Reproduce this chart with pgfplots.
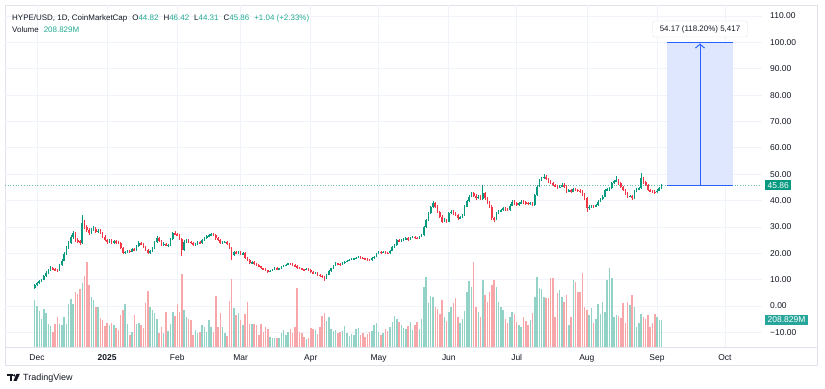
\documentclass[border=0pt]{standalone}
\usepackage{pgfplots}
\pgfplotsset{compat=1.18}
\usepackage{pgfplotstable}
\usepackage{fontspec}
\setmainfont{Liberation Sans}
\usetikzlibrary{arrows.meta}
\definecolor{upc}{RGB}{8,153,129}
\definecolor{dnc}{RGB}{242,54,69}
\definecolor{upv}{RGB}{146,210,199}
\definecolor{dnv}{RGB}{247,166,170}
\definecolor{gridc}{RGB}{240,243,250}
\definecolor{framec}{RGB}{224,227,235}
\definecolor{txt}{RGB}{19,23,34}
\definecolor{tealtxt}{RGB}{34,171,148}
\definecolor{voltag}{RGB}{38,166,154}
\definecolor{mblue}{RGB}{41,98,255}
\definecolor{mfill}{RGB}{222,231,253}
\definecolor{dotc}{RGB}{100,190,175}

\pgfplotstableread{
d o h l c v
-1 6.90 8.40 6.50 7.80 363
0 7.80 9.10 7.50 8.70 317
1 8.70 9.80 8.40 9.30 278
2 9.30 10.30 9.00 9.90 216
3 9.90 11.70 9.70 11.20 294
4 11.20 13.10 10.90 12.60 263
5 12.60 14.20 12.30 13.70 178
6 13.70 15.10 13.40 14.40 162
7 14.40 14.80 13.50 13.90 116
8 13.90 14.30 13.10 13.60 178
9 13.60 14.00 12.90 13.40 232
10 13.40 16.00 13.20 15.60 178
11 15.60 17.80 15.30 17.20 170
12 17.20 20.40 16.90 19.80 232
13 19.80 22.70 19.40 22.10 178
14 22.10 24.60 21.70 23.90 332
15 23.90 26.90 23.40 26.10 371
16 26.10 28.60 25.60 27.70 332
17 27.70 28.20 24.30 25.00 425
18 25.00 25.90 24.00 24.60 410
19 24.60 25.20 23.20 23.90 448
20 23.90 34.60 23.60 31.50 495
21 31.50 32.60 29.30 30.00 549
22 30.00 30.90 28.10 28.90 657
23 28.90 29.50 27.00 27.70 479
24 27.70 29.60 27.20 28.80 387
25 28.80 30.20 28.30 29.40 363
26 29.40 29.90 27.60 28.20 309
27 28.20 29.30 27.80 28.60 309
28 28.60 29.10 27.20 27.70 224
29 27.70 28.10 25.80 26.30 209
30 26.30 26.80 24.50 25.00 162
31 25.00 25.50 23.60 24.20 186
32 24.20 25.40 23.80 24.90 170
33 24.90 25.30 23.60 24.10 186
34 24.10 25.10 23.70 24.60 170
35 24.60 25.00 23.50 24.00 147
36 24.00 24.60 23.40 23.90 131
37 23.90 24.20 21.50 22.00 247
38 22.00 22.40 19.60 20.10 286
39 20.10 21.00 19.70 20.50 332
40 20.50 21.40 20.10 20.90 178
41 20.90 21.30 20.10 20.60 93
42 20.60 22.00 20.30 21.50 116
43 21.50 21.90 20.80 21.20 247
44 21.20 23.30 20.90 22.80 178
45 22.80 24.50 22.50 23.90 186
46 23.90 24.30 23.00 23.40 170
47 23.40 23.80 22.10 22.50 147
48 22.50 22.90 21.00 21.40 340
49 21.40 21.80 19.60 20.10 433
50 20.10 21.40 19.80 20.90 309
51 20.90 22.50 20.60 22.00 286
52 22.00 24.70 21.70 24.20 263
53 24.20 26.40 23.90 25.80 216
54 25.80 26.20 24.20 24.60 108
55 24.60 25.00 22.70 23.10 155
56 23.10 24.10 22.80 23.60 108
57 23.60 24.00 22.60 23.00 271
58 23.00 23.60 22.50 23.10 124
59 23.10 25.90 22.80 25.40 178
60 25.40 28.20 25.10 27.70 271
61 27.70 28.30 26.80 27.20 240
62 27.20 27.70 26.40 26.90 332
63 26.90 27.30 25.00 25.50 271
64 25.50 25.90 19.00 21.20 564
65 21.20 24.90 20.80 24.40 286
66 24.40 25.40 24.00 24.90 232
67 24.90 25.30 24.00 24.40 216
68 24.40 24.80 23.60 24.00 209
69 24.00 24.40 22.70 23.10 93
70 23.10 23.90 22.80 23.50 131
71 23.50 24.70 23.20 24.30 108
72 24.30 24.70 23.40 23.80 116
73 23.80 25.40 23.50 25.00 170
74 25.00 26.10 24.70 25.70 155
75 25.70 26.90 25.40 26.50 116
76 26.50 27.40 26.10 26.90 209
77 26.90 27.80 26.50 27.30 155
78 27.30 27.70 26.40 26.90 116
79 26.90 27.30 25.20 25.70 394
80 25.70 26.10 24.70 25.10 155
81 25.10 25.50 23.40 23.80 263
82 23.80 24.60 23.50 24.20 155
83 24.20 24.80 23.80 24.40 108
84 24.40 24.80 23.20 23.60 85
85 23.60 24.00 21.50 21.90 356
86 21.90 22.30 17.50 19.30 526
87 19.30 20.80 19.00 20.30 301
88 20.30 20.70 19.60 20.00 247
89 20.00 20.80 19.70 20.40 263
90 20.40 20.80 19.40 19.80 209
91 19.80 20.40 19.50 20.00 170
92 20.00 20.30 17.80 18.10 255
93 18.10 18.50 17.10 17.40 348
94 17.40 17.80 15.90 16.20 178
95 16.20 16.90 15.90 16.60 178
96 16.60 16.90 15.60 15.90 178
97 15.90 16.20 15.30 15.60 170
98 15.60 15.90 14.70 15.00 93
99 15.00 15.30 14.00 14.30 178
100 14.30 14.60 13.70 14.00 116
101 14.00 14.30 13.20 13.50 155
102 13.50 13.80 12.60 13.00 139
103 13.00 13.70 12.80 13.40 77
104 13.40 14.00 13.10 13.70 70
105 13.70 14.80 13.50 14.50 70
106 14.50 14.80 13.60 13.90 70
107 13.90 14.60 13.70 14.30 70
108 14.30 15.20 14.10 14.90 108
109 14.90 15.50 14.70 15.20 131
110 15.20 15.90 15.00 15.60 93
111 15.60 16.50 15.40 16.20 116
112 16.20 16.50 15.70 16.00 139
113 16.00 16.30 15.30 15.60 108
114 15.60 15.90 14.80 15.10 155
115 15.10 15.40 14.20 14.60 456
116 14.60 14.90 14.00 14.30 116
117 14.30 14.60 13.60 13.90 108
118 13.90 14.20 13.40 13.70 77
119 13.70 14.40 13.50 14.10 62
120 14.10 14.40 13.40 13.70 70
121 13.70 13.90 12.60 12.90 147
122 12.90 13.20 12.10 12.40 139
123 12.40 12.90 12.10 12.60 131
124 12.60 12.80 11.50 11.80 100
125 11.80 12.10 11.20 11.50 155
126 11.50 11.80 10.80 11.10 240
127 11.10 11.40 9.50 10.70 263
128 10.70 12.10 10.40 11.80 201
129 11.80 13.50 11.60 13.20 232
130 13.20 14.60 13.00 14.30 139
131 14.30 15.60 14.10 15.30 124
132 15.30 16.60 15.10 16.20 131
133 16.20 16.50 15.60 15.90 108
134 15.90 16.20 15.30 15.60 116
135 15.60 16.60 15.40 16.30 124
136 16.30 17.10 16.10 16.80 162
137 16.80 17.50 16.60 17.20 108
138 17.20 17.80 17.00 17.50 85
139 17.50 18.20 17.30 17.90 100
140 17.90 18.40 17.70 18.10 93
141 18.10 18.60 17.90 18.30 139
142 18.30 19.00 18.10 18.70 147
143 18.70 19.00 18.10 18.40 93
144 18.40 18.70 17.80 18.10 108
145 18.10 18.40 17.50 17.80 77
146 17.80 18.10 17.20 17.50 100
147 17.50 17.80 17.10 17.40 116
148 17.40 18.50 17.20 18.20 124
149 18.20 19.00 18.00 18.70 170
150 18.70 20.10 18.50 19.80 186
151 19.80 20.90 19.60 20.60 116
152 20.60 20.90 19.90 20.30 93
153 20.30 20.90 20.10 20.60 108
154 20.60 20.90 19.90 20.20 139
155 20.20 20.50 19.70 20.00 124
156 20.00 21.30 19.80 21.00 155
157 21.00 22.60 20.80 22.30 193
158 22.30 23.50 22.10 23.10 240
159 23.10 25.40 22.90 25.00 216
160 25.00 25.40 24.20 24.60 193
161 24.60 25.30 24.40 25.00 170
162 25.00 25.70 24.70 25.40 147
163 25.40 26.10 25.10 25.70 139
164 25.70 26.00 24.90 25.20 162
165 25.20 26.20 25.00 25.90 193
166 25.90 26.70 25.70 26.30 131
167 26.30 26.60 25.50 25.80 170
168 25.80 26.10 25.30 25.70 193
169 25.70 26.60 25.50 26.30 139
170 26.30 27.30 26.10 26.90 216
171 26.90 30.30 26.70 29.80 464
172 29.80 33.10 29.50 32.60 541
173 32.60 35.70 32.30 35.20 340
174 35.20 38.00 34.90 37.40 394
175 37.40 39.90 37.10 39.00 387
176 39.00 39.50 37.10 37.70 309
177 37.70 38.20 35.10 35.60 294
178 35.60 36.10 33.40 33.90 255
179 33.90 34.40 31.50 32.00 363
180 32.00 33.20 31.70 32.60 232
181 32.60 33.10 31.50 32.00 201
182 32.00 35.70 31.80 35.20 271
183 35.20 36.40 34.90 35.80 309
184 35.80 36.30 34.60 35.10 340
185 35.10 35.60 34.00 34.50 379
186 34.50 35.00 32.80 33.30 232
187 33.30 34.30 33.00 33.80 186
188 33.80 35.00 33.50 34.50 216
189 34.50 38.20 34.20 37.70 278
190 37.70 40.40 37.40 39.80 425
191 39.80 42.10 39.50 41.50 510
192 41.50 43.40 41.20 42.80 464
193 42.80 43.30 41.30 41.90 657
194 41.90 42.40 40.40 40.90 309
195 40.90 42.10 40.60 41.50 271
196 41.50 42.00 40.10 40.60 232
197 40.60 45.90 40.30 42.80 518
198 42.80 43.30 40.40 40.90 402
199 40.90 41.40 38.70 39.20 348
200 39.20 39.70 37.20 37.70 425
201 37.70 38.20 32.80 33.30 479
202 33.30 33.90 31.80 33.00 518
203 33.00 35.70 32.70 35.20 464
204 35.20 36.30 34.90 35.80 348
205 35.80 36.90 35.50 36.40 309
206 36.40 37.60 36.10 37.10 286
207 37.10 37.60 36.10 36.60 216
208 36.60 37.10 35.90 36.40 186
209 36.40 38.60 36.10 38.10 232
210 38.10 40.10 37.80 39.60 271
211 39.60 40.10 38.50 39.00 255
212 39.00 39.50 37.80 38.30 193
213 38.30 39.40 38.00 38.90 170
214 38.90 40.10 38.60 39.60 155
215 39.60 40.10 38.80 39.30 232
216 39.30 39.80 38.50 39.00 201
217 39.00 39.50 38.30 38.80 170
218 38.80 39.50 38.50 39.00 209
219 39.00 39.50 37.90 38.40 263
220 38.40 42.60 38.10 42.10 387
221 42.10 45.80 41.80 45.30 541
222 45.30 48.30 45.00 47.80 456
223 47.80 48.90 47.30 48.40 448
224 48.40 50.20 48.00 49.10 387
225 49.10 49.60 47.70 48.20 379
226 48.20 48.70 46.70 47.20 379
227 47.20 47.70 46.10 46.60 533
228 46.60 47.10 45.40 45.90 533
229 45.90 46.40 45.00 45.50 232
230 45.50 46.00 44.50 45.00 417
231 45.00 45.80 44.70 45.30 441
232 45.30 46.50 45.00 46.00 387
233 46.00 46.50 44.80 45.30 348
234 45.30 45.80 42.90 43.40 402
235 43.40 44.40 43.10 43.90 170
236 43.90 44.40 42.90 43.40 232
237 43.40 44.80 43.10 44.30 518
238 44.30 44.80 43.50 44.00 502
239 44.00 44.50 43.30 43.80 425
240 43.80 44.30 42.90 43.40 425
241 43.40 43.90 41.90 42.40 572
242 42.40 42.90 40.40 40.90 309
243 40.90 41.40 35.80 37.10 286
244 37.10 38.20 36.60 37.70 247
245 37.70 38.50 37.20 38.00 301
246 38.00 38.50 37.20 37.70 186
247 37.70 38.80 37.40 38.30 216
248 38.30 40.10 38.00 39.60 332
249 39.60 41.00 39.30 40.50 255
250 40.50 42.00 40.20 41.50 348
251 41.50 44.50 41.20 44.00 271
252 44.00 44.90 43.50 44.20 518
253 44.20 45.20 43.70 44.70 611
254 44.70 47.00 44.40 46.50 533
255 46.50 47.90 46.20 47.40 232
256 47.40 49.30 46.90 47.80 247
257 47.80 48.30 46.00 46.50 240
258 46.50 47.00 44.70 45.20 224
259 45.20 45.70 43.50 44.00 340
260 44.00 44.50 42.30 42.80 186
261 42.80 43.30 41.00 41.50 348
262 41.50 42.30 41.20 41.80 325
263 41.80 42.30 40.40 40.90 402
264 40.90 43.90 40.60 43.40 309
265 43.40 44.70 43.10 44.20 155
266 44.20 45.20 43.90 44.70 186
267 44.70 50.60 44.40 48.40 255
268 48.40 48.90 46.40 46.90 232
269 46.90 47.40 45.40 45.90 216
270 45.90 46.40 43.50 44.00 247
271 44.00 44.50 43.10 43.60 155
272 43.60 44.10 42.90 43.40 186
273 43.40 43.90 42.60 43.10 255
274 43.10 44.30 42.80 43.80 232
275 43.80 45.30 43.50 44.82 209
276 44.82 46.42 44.31 45.86 208.829
}\data

\pgfplotsset{
  uponly/.style={restrict expr to domain={\thisrow{c}-\thisrow{o}}{0:1000}},
  dnonly/.style={restrict expr to domain={\thisrow{c}-\thisrow{o}}{-1000:-0.001}},
  base/.style={scale only axis, width=757bp, height=342bp, at={(5bp,42bp)},
    anchor=south west, xmin=-14.14, xmax=320.4},
}

\begin{document}
\begin{tikzpicture}
\path[use as bounding box, fill=white] (0,0) rectangle (825bp,389bp);
% frame
\draw[framec, line width=0.8bp] (5bp,24bp) rectangle (817bp,384bp);
\draw[framec, line width=0.8bp] (5bp,42bp) -- (817bp,42bp);

% grid + tick labels
\begin{axis}[base, ymin=-15.55, ymax=114.19,
  axis line style={draw=none},
  major tick length=0pt,
  xtick={0,31,62,90,121,151,182,212,243,274,304},
  xticklabels={Dec,\textbf{2025},Feb,Mar,Apr,May,Jun,Jul,Aug,Sep,Oct},
  ytick={-10,0,...,110},
  yticklabels={−10.00,0.00,10.00,20.00,30.00,40.00,50.00,60.00,70.00,80.00,90.00,100.00,110.00},
  yticklabel pos=right,
  xmajorgrids, ymajorgrids, grid style={gridc, line width=0.7bp},
  tick label style={font=\fontsize{8.5}{10}\selectfont, text=txt},
  yticklabel style={anchor=west, inner sep=0pt, xshift=8bp},
  xticklabel style={anchor=base, inner sep=0pt, yshift=-13.5bp},
]
\addplot[draw=none, forget plot] coordinates {(0,0)};
\end{axis}

% volume
\begin{axis}[base, ymin=0, ymax=2644, hide axis, clip mode=individual]
\addplot[ycomb, upv, line width=1.5bp, mark=none, uponly] table[x=d, y=v]{\data};
\addplot[ycomb, dnv, line width=1.5bp, mark=none, dnonly] table[x=d, y=v]{\data};
\node[fill=voltag, text=white, anchor=west, inner xsep=2.5bp, inner ysep=0pt,
  minimum height=10.5bp, font=\fontsize{8.5}{10}\selectfont, xshift=3bp]
  at (axis cs:320.4,208.829) {208.829M};
\end{axis}

% price
\begin{axis}[base, ymin=-15.55, ymax=114.19, hide axis, clip mode=individual]
\addplot[dotc, dotted, line width=0.7bp] coordinates {(-14.14,45.86) (320.4,45.86)};
\addplot[fill=mfill, draw=none] coordinates {(278.4,45.86) (307.6,45.86) (307.6,100) (278.4,100)} -- cycle;
\addplot[mblue, line width=1bp] coordinates {(278.4,100) (307.6,100)};
\addplot[mblue, line width=1bp] coordinates {(278.4,45.86) (307.6,45.86)};
\addplot[mblue, line width=1bp, -{Straight Barb[length=4bp,width=9bp]}] coordinates {(293,45.86) (293,99.6)};
% wicks
\addplot[draw=none, mark=none, uponly, error bars/.cd, y dir=both, y explicit, error mark=none,
  error bar style={draw=upc, line width=0.7bp}]
  table[x=d, y=c, y error plus expr=\thisrow{h}-\thisrow{c}, y error minus expr=\thisrow{c}-\thisrow{l}]{\data};
\addplot[draw=none, mark=none, dnonly, error bars/.cd, y dir=both, y explicit, error mark=none,
  error bar style={draw=dnc, line width=0.7bp}]
  table[x=d, y=c, y error plus expr=\thisrow{h}-\thisrow{c}, y error minus expr=\thisrow{c}-\thisrow{l}]{\data};
% bodies
\addplot[draw=none, mark=none, uponly, error bars/.cd, y dir=both, y explicit, error mark=none,
  error bar style={draw=upc, line width=1.6bp}]
  table[x=d, y expr=(\thisrow{o}+\thisrow{c})/2, y error expr={max(abs(\thisrow{c}-\thisrow{o})/2,0.15)}]{\data};
\addplot[draw=none, mark=none, dnonly, error bars/.cd, y dir=both, y explicit, error mark=none,
  error bar style={draw=dnc, line width=1.6bp}]
  table[x=d, y expr=(\thisrow{o}+\thisrow{c})/2, y error expr={max(abs(\thisrow{c}-\thisrow{o})/2,0.15)}]{\data};
% tags
\node[fill=upc, text=white, anchor=west, inner xsep=2.5bp, inner ysep=0pt,
  minimum height=10.5bp, font=\fontsize{8.5}{10}\selectfont, xshift=3bp]
  at (axis cs:320.4,45.86) {45.86};
\node[fill=white, draw=framec, rounded corners=2bp, text=txt, inner xsep=7bp, inner ysep=0pt,
  minimum height=16bp, font=\fontsize{8}{10}\selectfont]
  at (axis cs:293,105.1) {54.17 (118.20\%) 5,417};
\end{axis}

% header
\node[anchor=base west, inner sep=0pt, font=\fontsize{8}{10}\selectfont, text=txt] at (12bp,368.8bp)
 {HYPE/USD, 1D, CoinMarketCap\hspace{5bp}O\textcolor{tealtxt}{44.82}\hspace{5bp}H\textcolor{tealtxt}{46.42}\hspace{5bp}L\textcolor{tealtxt}{44.31}\hspace{5bp}C\textcolor{tealtxt}{45.86}\hspace{5bp}\textcolor{tealtxt}{+1.04 (+2.33\%)}};
\node[anchor=base west, inner sep=0pt, font=\fontsize{8}{10}\selectfont, text=txt] at (12bp,356.8bp)
 {Volume\hspace{5bp}\textcolor{tealtxt}{208.829M}};

% footer logo
\fill[txt] (7bp,15bp) rectangle (12.6bp,12.8bp);
\fill[txt] (9.6bp,12.8bp) rectangle (11.8bp,8bp);
\fill[txt] (14.2bp,13.6bp) circle (1.2bp);
\fill[txt] (16.4bp,15bp) -- (19.8bp,15bp) -- (16.6bp,8bp) -- (13.4bp,8bp) -- cycle;
\node[anchor=base west, inner sep=0pt, font=\fontsize{9}{11}\selectfont, text=txt] at (23bp,8.8bp) {TradingView};
\end{tikzpicture}
\end{document}
